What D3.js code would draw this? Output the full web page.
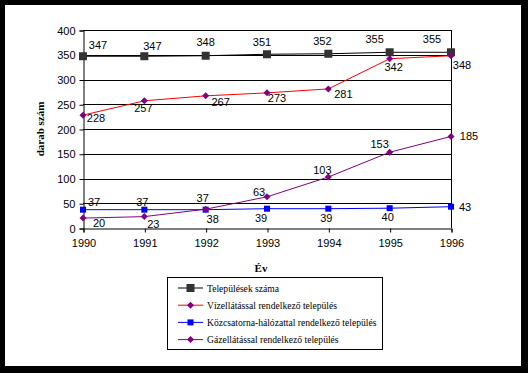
<!DOCTYPE html>
<html>
<head>
<meta charset="utf-8">
<script src="https://cdn.jsdelivr.net/npm/d3@7"></script>
<style>
  body { margin: 0; background: #000; }
  svg { display: block; }
</style>
</head>
<body>
<script>
// Data
const years = [1990, 1991, 1992, 1993, 1994, 1995, 1996];
const telepulesek = [347, 347, 348, 351, 352, 355, 355];
const vizellatas = [228, 257, 267, 273, 281, 342, 348];
const kozcsatorna = [37, 37, 37, 39, 39, 40, 43];
const gazellatas = [20, 23, 38, 63, 103, 153, 185];
const yTicks = [0, 50, 100, 150, 200, 250, 300, 350, 400];

const seriesNames = [
  "Települések száma",
  "Vízellátással rendelkező település",
  "Közcsatorna-hálózattal rendelkező település",
  "Gázellátással rendelkező település",
];

// label offsets (px) relative to each marker, as placed in the original
const labelOffsets = [
  [[15, -11], [8, -10], [0, -14], [-5, -12], [-6, -13], [-15, -13], [-19, -13]],
  [[13, 3], [-1, 7], [15, 6], [10, 5], [15, 5], [4, 8], [11, 9]],
  [[11, -8], [-2, -8], [-3, -12], [-6, 9], [-2, 9], [-2, 9], [14, 0]],
  [[16, 5], [9, 7], [7, 10], [-8, -5], [-6, -7], [-10, -8], [18, 0]],
];

const W = 528, H = 373;
const plot = { left: 83, right: 451, top: 30, bottom: 228 };

const series = [
  { name: seriesNames[0], values: telepulesek, line: "#000", marker: "square", fill: "#333", size: 8 },
  { name: seriesNames[1], values: vizellatas, line: "#ff0000", marker: "diamond", fill: "#800080", size: 7 },
  { name: seriesNames[2], values: kozcsatorna, line: "#0000ff", marker: "square", fill: "#0000ff", size: 6 },
  { name: seriesNames[3], values: gazellatas, line: "#800080", marker: "diamond", fill: "#800080", size: 7 },
];

const svg = d3.select("body").append("svg").attr("width", W).attr("height", H);

svg.append("rect").attr("width", W).attr("height", H).attr("fill", "#000");
svg.append("rect").attr("x", 5).attr("y", 5).attr("width", 516).attr("height", 361).attr("fill", "#fff");

const x = d3.scaleLinear().domain([1990, 1996]).range([plot.left, plot.right]);
const y = d3.scaleLinear().domain([0, 400]).range([plot.bottom, plot.top]);

// gridlines
svg.append("g")
  .selectAll("line")
  .data(yTicks.filter((t) => t > 0))
  .join("line")
  .attr("x1", plot.left)
  .attr("x2", plot.right)
  .attr("y1", (d) => Math.round(y(d)) + 0.5)
  .attr("y2", (d) => Math.round(y(d)) + 0.5)
  .attr("stroke", "#000");

// right border of plot area
svg.append("line")
  .attr("x1", plot.right + 0.5).attr("x2", plot.right + 0.5)
  .attr("y1", plot.top).attr("y2", plot.bottom)
  .attr("stroke", "#000");

const yAxis = svg.append("g")
  .attr("transform", `translate(${plot.left + 0.5},0.5)`)
  .call(d3.axisLeft(y).tickValues(yTicks).tickSize(4).tickPadding(4));

const xAxis = svg.append("g")
  .attr("transform", `translate(0.5,${Math.round(plot.bottom) + 0.5})`)
  .call(d3.axisBottom(x).tickValues(years).tickFormat(d3.format("d")).tickSize(4).tickPadding(7));

[yAxis, xAxis].forEach((a) => {
  a.select(".domain").attr("stroke", "#000");
  a.selectAll(".tick line").attr("stroke", "#000");
  a.selectAll("text")
    .attr("fill", "#000")
    .style("font-family", "'Liberation Sans', Arial, sans-serif")
    .style("font-size", "11px");
});

// axis titles
svg.append("text")
  .attr("transform", `translate(44,129) rotate(-90)`)
  .attr("text-anchor", "middle")
  .style("font-family", "'Liberation Serif', 'Times New Roman', serif")
  .style("font-weight", "bold")
  .style("font-size", "11px")
  .text("darab szám");

svg.append("text")
  .attr("x", 261)
  .attr("y", 272)
  .attr("text-anchor", "middle")
  .style("font-family", "'Liberation Serif', 'Times New Roman', serif")
  .style("font-weight", "bold")
  .style("font-size", "11px")
  .text("Év");

function drawMarker(g, s, cx, cy) {
  const h = s.size / 2;
  if (s.marker === "square") {
    g.append("rect")
      .attr("x", cx - h).attr("y", cy - h)
      .attr("width", s.size).attr("height", s.size)
      .attr("fill", s.fill);
  } else {
    g.append("path")
      .attr("d", `M${cx},${cy - h}L${cx + h},${cy}L${cx},${cy + h}L${cx - h},${cy}Z`)
      .attr("fill", s.fill);
  }
}

const line = d3.line().x((d, i) => x(years[i])).y((d) => y(d));

series.forEach((s, si) => {
  const g = svg.append("g");
  g.append("path")
    .attr("d", line(s.values))
    .attr("fill", "none")
    .attr("stroke", s.line)
    .attr("stroke-width", 1);
  s.values.forEach((v, i) => drawMarker(g, s, x(years[i]), y(v)));
  g.selectAll("text")
    .data(s.values)
    .join("text")
    .attr("x", (d, i) => x(years[i]) + labelOffsets[si][i][0])
    .attr("y", (d, i) => y(d) + labelOffsets[si][i][1])
    .attr("text-anchor", "middle")
    .attr("dominant-baseline", "central")
    .style("font-family", "'Liberation Sans', Arial, sans-serif")
    .style("font-size", "11px")
    .text((d) => d);
});

// legend
const legend = svg.append("g");
legend.append("rect")
  .attr("x", 167.5).attr("y", 277.5)
  .attr("width", 215).attr("height", 72)
  .attr("fill", "#fff").attr("stroke", "#000");

series.forEach((s, i) => {
  const cy = 288 + i * 17.2;
  const g = legend.append("g");
  g.append("line")
    .attr("x1", 178).attr("x2", 203)
    .attr("y1", cy).attr("y2", cy)
    .attr("stroke", s.line);
  drawMarker(g, s, 190.5, cy);
  g.append("text")
    .attr("x", 207)
    .attr("y", cy)
    .attr("dominant-baseline", "central")
    .style("font-family", "'Liberation Serif', 'Times New Roman', serif")
    .style("font-size", "9.6px")
    .text(s.name);
});
</script>
</body>
</html>
